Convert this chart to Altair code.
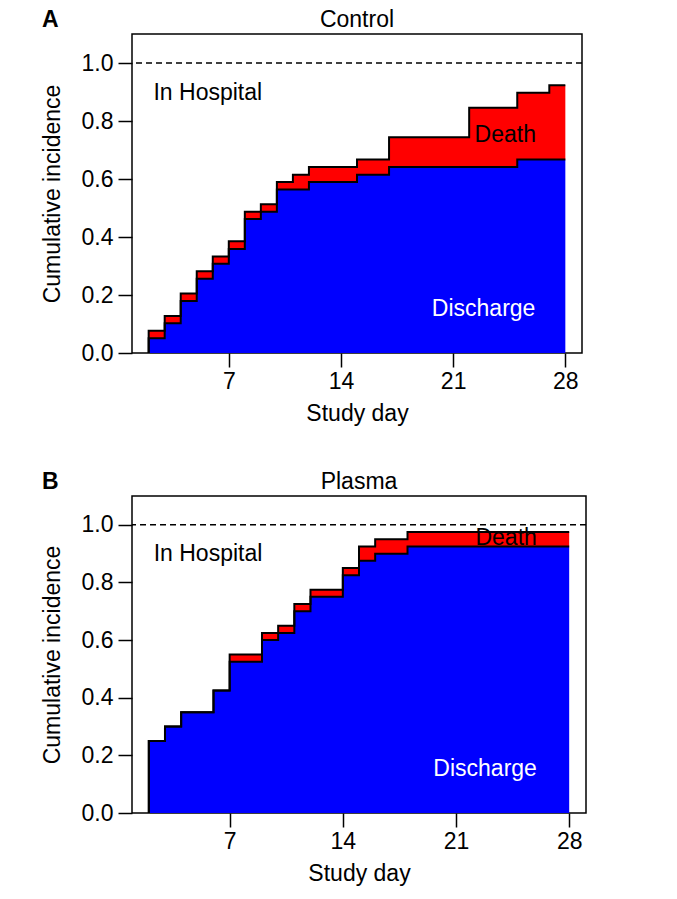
import altair as alt
import pandas as pd

# ---- data ----
ctrl_day = [2, 3, 4, 5, 6, 7, 8, 9, 10, 11, 12, 15, 17, 22, 25, 27, 28]
ctrl_discharge = [0.051, 0.103, 0.179, 0.256, 0.308, 0.359, 0.462, 0.487, 0.564, 0.564,
                  0.590, 0.615, 0.641, 0.641, 0.667, 0.667, 0.667]
ctrl_total = [0.077, 0.128, 0.205, 0.282, 0.333, 0.385, 0.487, 0.513, 0.590, 0.615,
              0.641, 0.667, 0.744, 0.846, 0.897, 0.923, 0.923]

plasma_day = [2, 3, 4, 6, 7, 9, 10, 11, 12, 14, 15, 16, 18, 28]
plasma_discharge = [0.25, 0.30, 0.35, 0.425, 0.525, 0.60, 0.625, 0.70, 0.75, 0.825,
                    0.875, 0.90, 0.925, 0.925]
plasma_total = [0.25, 0.30, 0.35, 0.425, 0.55, 0.625, 0.65, 0.725, 0.775, 0.85,
                0.925, 0.95, 0.975, 0.975]

x_ticks = [7, 14, 21, 28]
y_ticks = [0.0, 0.2, 0.4, 0.6, 0.8, 1.0]

# annotation positions (data coordinates)
ctrl_labels = {"In Hospital": (2.3, 0.872), "Death": (24.25, 0.727), "Discharge": (22.9, 0.128)}
plasma_labels = {"In Hospital": (2.3, 0.875), "Death": (24.1, 0.930), "Discharge": (22.8, 0.127)}

FONT = "Liberation Sans"
FS = 23
XDOM = [0.96, 29.04]
YDOM = [0, 1.1]


def panel(days, dis, tot, labels, title, letter, width, height):
    d = [days[0]] + list(days)
    ds = [0.0] + list(dis)
    tt = [0.0] + list(tot)
    df = pd.DataFrame({"day": d, "dis": ds, "tot": tt, "zero": [0.0] * len(d),
                       "idx": list(range(len(d)))})

    xscale = alt.Scale(domain=XDOM, nice=False, zero=False)
    yscale = alt.Scale(domain=YDOM, nice=False, zero=False)
    xaxis = alt.Axis(values=x_ticks, title="Study day", grid=False, domain=False,
                     tickSize=14, tickWidth=1.5, tickColor="black",
                     labelFontSize=FS, labelFont=FONT, labelColor="black",
                     labelPadding=3, titleFont=FONT, titleFontSize=FS,
                     titleFontWeight="normal", titleColor="black", titlePadding=9)
    yaxis = alt.Axis(values=y_ticks, format=".1f", title="Cumulative incidence", grid=False,
                     domain=False, tickSize=14, tickWidth=1.5, tickColor="black",
                     labelFontSize=FS, labelFont=FONT, labelColor="black", labelPadding=5,
                     titleFont=FONT, titleFontSize=FS, titleFontWeight="normal",
                     titleColor="black", titlePadding=17)

    base = alt.Chart(df)
    blue = base.mark_area(interpolate="step-after", color="#0000FF", opacity=1).encode(
        x=alt.X("day:Q", scale=xscale, axis=xaxis),
        y=alt.Y("dis:Q", scale=yscale, axis=yaxis, stack=None),
        y2="zero:Q")
    red = base.mark_area(interpolate="step-after", color="#FF0000", opacity=1).encode(
        x="day:Q", y=alt.Y("tot:Q", stack=None), y2="dis:Q")
    line1 = base.mark_line(interpolate="step-after", color="black", strokeWidth=2).encode(
        x="day:Q", y="dis:Q", order=alt.Order("idx:Q"))
    line2 = base.mark_line(interpolate="step-after", color="black", strokeWidth=2).encode(
        x="day:Q", y="tot:Q", order=alt.Order("idx:Q"))

    rule = alt.Chart(pd.DataFrame({"v": [1.0]})).mark_rule(
        color="black", strokeDash=[6, 4], strokeWidth=1.5).encode(y="v:Q")

    lab = pd.DataFrame({"t": list(labels.keys()),
                        "x": [v[0] for v in labels.values()],
                        "y": [v[1] for v in labels.values()]})
    t_in = alt.Chart(lab[lab.t == "In Hospital"]).mark_text(
        font=FONT, fontSize=FS, align="left", baseline="alphabetic", color="black").encode(
        x="x:Q", y="y:Q", text="t:N")
    t_death = alt.Chart(lab[lab.t == "Death"]).mark_text(
        font=FONT, fontSize=FS, align="center", baseline="alphabetic", color="black").encode(
        x="x:Q", y="y:Q", text="t:N")
    t_dis = alt.Chart(lab[lab.t == "Discharge"]).mark_text(
        font=FONT, fontSize=FS, align="center", baseline="alphabetic", color="white").encode(
        x="x:Q", y="y:Q", text="t:N")

    t_letter = alt.Chart(pd.DataFrame({"t": [letter]})).mark_text(
        font=FONT, fontSize=FS, fontWeight="bold", align="left", baseline="alphabetic",
        color="black").encode(text="t:N", x=alt.value(-90), y=alt.value(-7))
    t_title = alt.Chart(pd.DataFrame({"t": [title]})).mark_text(
        font=FONT, fontSize=FS, align="center", baseline="alphabetic",
        color="black").encode(text="t:N", x=alt.value(width / 2), y=alt.value(-7))

    return alt.layer(blue, red, line1, line2, rule, t_in, t_death, t_dis,
                     t_letter, t_title).properties(width=width, height=height)


pA = panel(ctrl_day, ctrl_discharge, ctrl_total, ctrl_labels, "Control", "A", 450, 319)
pB = panel(plasma_day, plasma_discharge, plasma_total, plasma_labels, "Plasma", "B", 454, 317)

chart = alt.vconcat(pA, pB, spacing=143, bounds="flush").properties(
    padding={"left": 32, "top": 0, "right": 5, "bottom": 5}
).configure_view(stroke="black", strokeWidth=1.5)

chart.save("out.html", embed_options={"renderer": "svg", "actions": False})
